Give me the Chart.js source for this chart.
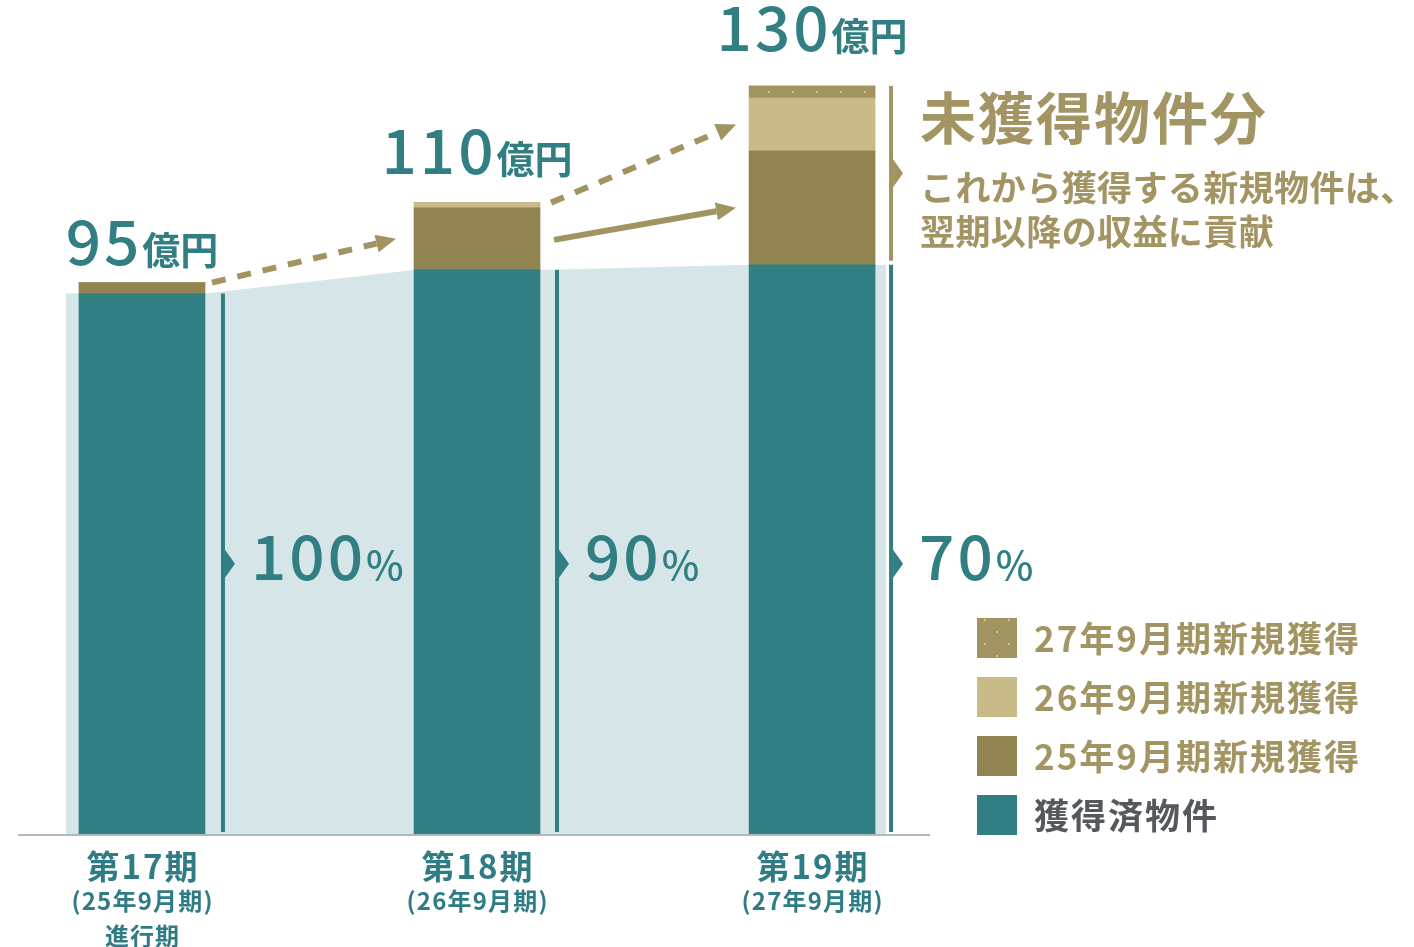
<!DOCTYPE html>
<html><head><meta charset="utf-8">
<script src="https://cdn.jsdelivr.net/npm/chart.js@4"></script>
<style>html,body{margin:0;padding:0;background:#fff}#wrap{width:1414px;height:947px;position:relative}</style>
</head><body><div id="wrap"><canvas id="c"></canvas></div>
<script>
// ---- data ----
const periods = ['第17期','第18期','第19期'];
const periodSubs = ['(25年9月期)','(26年9月期)','(27年9月期)'];
const periodNotes = ['進行期','',''];
const seriesNames = ['獲得済物件','25年9月期新規獲得','26年9月期新規獲得','27年9月期新規獲得'];
const acquired = [94, 98.1, 99];
const new25 = [1.9, 10.8, 19.8];
const new26 = [0, 0.9, 9.2];
const new27 = [0, 0, 2.1];
const totalLabels = ['95','110','130'];
const totalUnit = '億円';
const acquiredRatios = ['100','90','70'];
const noteTitle = '未獲得物件分';
const noteLines = ['これから獲得する新規物件は、','翌期以降の収益に貢献'];

// ---- styles ----
const TEAL = '#317e83', OLIVE = '#918450', TAN = '#c9bb88', GOLD = '#a29461';
const AREA = '#d6e5e8', TXT_GOLD = '#a39563', GRAY = '#55595d', TXT_TEAL = '#2f7c84';
const JP = '"Noto Sans CJK JP", "Noto Sans", sans-serif';
const labelGaps = [18, 29, 35];

function makePattern(){
  const p = document.createElement('canvas'); p.width = 24; p.height = 24;
  const g = p.getContext('2d');
  g.fillStyle = GOLD; g.fillRect(0,0,24,24);
  g.fillStyle = '#cbbf90';
  g.fillRect(0,19,2,2); g.fillRect(12,7,2,2);
  return g.createPattern(p,'repeat');
}
const dotPattern = makePattern();
const toXY = arr => arr.map((v,i)=>({x:i, y:v}));

function arrow(ctx, x1, y1, x2, y2, dashed){
  const ang = Math.atan2(y2-y1, x2-x1), hl = 20, hw = 9;
  const bx = x2 - hl*Math.cos(ang), by = y2 - hl*Math.sin(ang);
  ctx.save();
  ctx.strokeStyle = GOLD; ctx.fillStyle = GOLD; ctx.lineWidth = 6;
  if (dashed) ctx.setLineDash([14,12]);
  ctx.beginPath(); ctx.moveTo(x1,y1); ctx.lineTo(bx,by); ctx.stroke();
  ctx.setLineDash([]);
  ctx.beginPath(); ctx.moveTo(x2,y2);
  ctx.lineTo(bx + hw*Math.sin(ang), by - hw*Math.cos(ang));
  ctx.lineTo(bx - hw*Math.sin(ang), by + hw*Math.cos(ang));
  ctx.closePath(); ctx.fill();
  ctx.restore();
}

function marker(ctx, x, y1, y2, ty, color){
  ctx.fillStyle = color;
  ctx.fillRect(x-2, y1, 4, y2-y1);
  ctx.beginPath(); ctx.moveTo(x+2, ty-14); ctx.lineTo(x+12, ty); ctx.lineTo(x+2, ty+14); ctx.closePath(); ctx.fill();
}

function spacedCenter(ctx, text, cx, y, sp){
  ctx.letterSpacing = sp + 'px';
  const w = ctx.measureText(text).width - sp;
  ctx.textAlign = 'left';
  ctx.fillText(text, cx - w/2, y);
  ctx.letterSpacing = '0px';
}

const deco = {
  id: 'deco',
  beforeDatasetsDraw(chart){
    const ctx = chart.ctx, m = chart.getDatasetMeta(0).data, ca = chart.chartArea;
    const L = b => b.x - b.width/2, R = b => b.x + b.width/2;
    const base = m[0].base;
    ctx.save();
    ctx.fillStyle = AREA;
    ctx.beginPath();
    ctx.moveTo(L(m[0])-13, base);
    ctx.lineTo(L(m[0])-13, m[0].y);
    ctx.lineTo(R(m[0]), m[0].y);
    ctx.lineTo(L(m[1]), m[1].y);
    ctx.lineTo(R(m[1]), m[1].y);
    ctx.lineTo(L(m[2]), m[2].y);
    ctx.lineTo(R(m[2])+11, m[2].y);
    ctx.lineTo(R(m[2])+11, base);
    ctx.closePath(); ctx.fill();
    ctx.fillStyle = '#b0babe';
    ctx.fillRect(ca.left, base, ca.right-ca.left, 2);
    ctx.restore();
  },
  afterDatasetsDraw(chart){
    const ctx = chart.ctx, ys = chart.scales.y;
    const M = [0,1,2,3].map(k=>chart.getDatasetMeta(k).data);
    const m = M[0];
    const L = b => b.x - b.width/2, R = b => b.x + b.width/2;
    const base = m[0].base;
    const mid = b => (b.y + b.base)/2;
    ctx.save();
    // percentage markers
    const ty = ys.getPixelForValue(acquired[0]/2);
    const offs = [18, 17, 16];
    for (let i=0;i<3;i++){
      const x = R(m[i]) + offs[i];
      marker(ctx, x, m[i].y, base-2, ty, TEAL);
      ctx.fillStyle = TEAL; ctx.textBaseline = 'alphabetic'; ctx.textAlign = 'left';
      ctx.font = '500 62px ' + JP; ctx.letterSpacing = '3px';
      const w = ctx.measureText(acquiredRatios[i]).width;
      ctx.fillText(acquiredRatios[i], x + 28, ty + 16);
      ctx.letterSpacing = '0px';
      ctx.font = '500 40px ' + JP;
      ctx.fillText('%', x + 28 + w, ty + 16);
    }
    // unacquired marker at 19
    const top19 = M[3][2].y;
    const x19 = R(m[2]) + 16;
    marker(ctx, x19, top19, m[2].y - 4, (top19 + m[2].y - 4)/2, GOLD);
    // arrows
    arrow(ctx, R(m[0])+7, M[1][0].y, L(m[1])-18, mid(M[1][1]), true);
    arrow(ctx, R(m[1])+11, M[2][1].y, L(m[2])-13, mid(M[2][2]), true);
    arrow(ctx, R(m[1])+14, mid(M[1][1])+1, L(m[2])-13, mid(M[1][2]), false);
    // total labels
    const tops = [M[1][0].y, M[2][1].y, M[3][2].y];
    for (let i=0;i<3;i++){
      ctx.font = '500 62px ' + JP; ctx.letterSpacing = '3px';
      const w1 = ctx.measureText(totalLabels[i]).width;
      ctx.letterSpacing = '0px';
      ctx.font = '700 38px ' + JP; const w2 = ctx.measureText(totalUnit).width;
      const x0 = m[i].x - (w1 + w2)/2, yb = tops[i] - labelGaps[i];
      ctx.fillStyle = TEAL; ctx.textAlign = 'left'; ctx.textBaseline = 'alphabetic';
      ctx.font = '500 62px ' + JP; ctx.letterSpacing = '3px'; ctx.fillText(totalLabels[i], x0, yb);
      ctx.letterSpacing = '0px';
      ctx.font = '700 38px ' + JP; ctx.fillText(totalUnit, x0 + w1, yb - 1);
    }
    // period labels
    ctx.textBaseline = 'middle'; ctx.fillStyle = TXT_TEAL;
    for (let i=0;i<3;i++){
      ctx.font = '700 33px ' + JP; spacedCenter(ctx, periods[i], m[i].x, base + 32, 2);
      ctx.font = '700 24px ' + JP; spacedCenter(ctx, periodSubs[i], m[i].x, base + 67, 1.2);
      if (periodNotes[i]) spacedCenter(ctx, periodNotes[i], m[i].x, base + 102, 1);
    }
    // note
    ctx.textAlign = 'left'; ctx.fillStyle = TXT_GOLD;
    ctx.font = '700 56px ' + JP; ctx.letterSpacing = '2px'; ctx.fillText(noteTitle, x19 + 29, 118);
    ctx.letterSpacing = '0.4px';
    ctx.font = '700 35px ' + JP;
    ctx.fillText(noteLines[0], x19 + 29, 188);
    ctx.fillText(noteLines[1], x19 + 29, 232);
    // legend
    const fills = [TEAL, OLIVE, TAN, dotPattern];
    ctx.letterSpacing = '2px';
    for (let k=3;k>=0;k--){
      const yy = 618 + (3-k)*59;
      ctx.fillStyle = fills[k]; ctx.fillRect(977, yy, 40, 40);
      ctx.fillStyle = k === 0 ? GRAY : TXT_GOLD;
      ctx.font = '700 35px ' + JP; ctx.fillText(seriesNames[k], 1034, yy + 21);
    }
    ctx.letterSpacing = '0px';
    ctx.restore();
  }
};

new Chart(document.getElementById('c'), {
  type: 'bar',
  data: { datasets: [
    {label: seriesNames[0], data: toXY(acquired), backgroundColor: TEAL},
    {label: seriesNames[1], data: toXY(new25), backgroundColor: OLIVE},
    {label: seriesNames[2], data: toXY(new26), backgroundColor: TAN},
    {label: seriesNames[3], data: toXY(new27), backgroundColor: dotPattern}
  ]},
  options: {
    responsive: true, maintainAspectRatio: false, animation: false,
    layout: {padding: {left: 18, right: 484, top: 0, bottom: 113}},
    datasets: {bar: {barThickness: 126, borderWidth: 0}},
    scales: {
      x: {type: 'linear', min: -0.37, max: 2.352, offset: false, stacked: true, display: false},
      y: {min: 0, max: 145.04, stacked: true, display: false}
    },
    plugins: {legend: {display: false}, tooltip: {enabled: false}}
  },
  plugins: [deco]
});
</script></body></html>
